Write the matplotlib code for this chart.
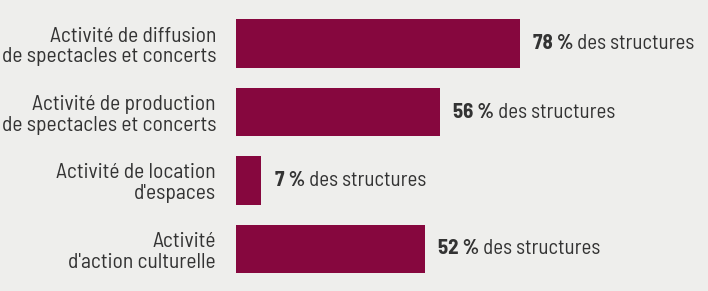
import matplotlib
matplotlib.use('Agg')
import matplotlib.pyplot as plt

# données
categories = [
    "Activité de diffusion\nde spectacles et concerts",
    "Activité de production\nde spectacles et concerts",
    "Activité de location\nd'espaces",
    "Activité\nd'action culturelle",
]
valeurs = [78, 56, 7, 52]
suffixe = " des structures"

bg = '#eeeeec'
bar_color = '#86073e'
txt_color = '#333333'

plt.rcParams['font.family'] = ['Barlow Semi Condensed', 'DejaVu Sans']

fig = plt.figure(figsize=(7.08, 2.91), dpi=100, facecolor=bg)
ax = fig.add_axes([236/708, 7.75/291, 472/708, 274/291])
ax.set_facecolor(bg)

y = list(range(len(categories)))
ax.barh(y, valeurs, height=0.715, color=bar_color)
ax.set_xlim(0, 472/3.64)
ax.set_ylim(3.5, -0.5)

ax.set_yticks(y)
ax.set_yticklabels(categories, fontsize=15.5, color=txt_color, linespacing=1.12)
ax.tick_params(axis='y', length=0, pad=14.4)
ax.set_xticks([])
for s in ax.spines.values():
    s.set_visible(False)

# étiquettes de valeur: nombre en gras + texte normal
for yi, v in zip(y, valeurs):
    t = ax.annotate(f"{v} %", xy=(v, yi), xytext=(9.4, 0), textcoords='offset points',
                    ha='left', va='center', fontsize=15, fontweight='bold', color=txt_color)
    ax.annotate(suffixe, xy=(1, 0), xycoords=t, ha='left', va='bottom',
                fontsize=15, color=txt_color)

fig.savefig('out.png', dpi=100, facecolor=bg)
